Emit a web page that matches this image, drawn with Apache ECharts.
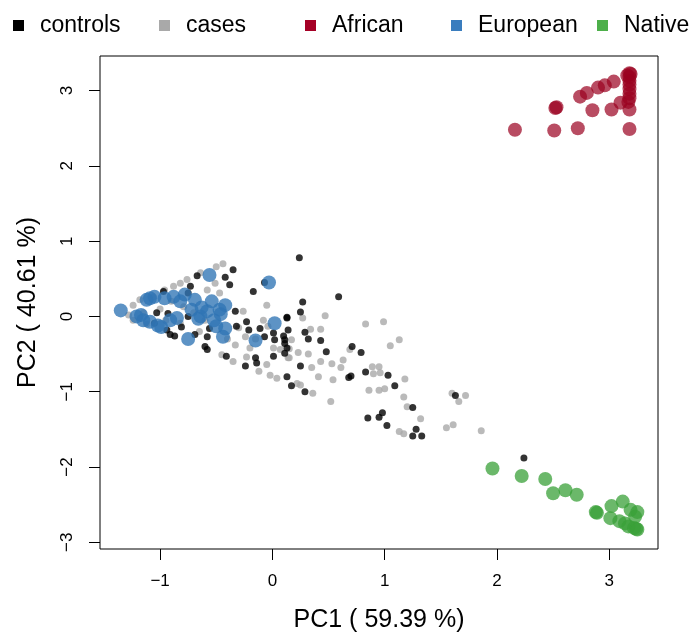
<!DOCTYPE html>
<html>
<head>
<meta charset="utf-8">
<script src="https://cdn.jsdelivr.net/npm/echarts@6/dist/echarts.min.js"></script>
<style>
    html,body{margin:0;padding:0;background:#fff;}
    #pcaChartEle{width:694px;height:635px;}
</style>
</head>
<body>
<div id="pcaChartEle"></div>
<script>
// tick positions
var xTicks = [-1, 0, 1, 2, 3];
var yTicks = [-3, -2, -1, 0, 1, 2, 3];

var legendNames = ["controls", "cases", "African", "European", "Native"];
var legendColors = ['#000000', '#A9A9A9', '#A50026', '#3A7DBE', '#4DAF4A'];

// PC1, PC2 per sample
var casesData = [
    [-1.28,0.02],[-1.24,0.15],[-1.24,-0.05],[-1.18,0.22],[-1.06,0.26],[-0.96,0.35],[-0.88,0.40],[-0.82,0.44],
    [-0.76,0.49],[-0.64,0.58],[-0.50,0.66],[-0.44,0.70],[-0.51,0.44],[-0.47,0.31],[-0.58,0.35],[-0.79,0.13],
    [-0.82,-0.09],[-1.12,-0.10],[-0.26,0.07],[-0.05,0.15],[-0.08,-0.05],[-0.04,-0.13],[-0.24,-0.27],[0.01,-0.42],
    [0.07,-0.44],[0.14,-0.55],[-0.23,-0.54],[-0.05,-0.64],[-0.12,-0.73],[-0.02,-0.78],[0.04,-0.82],[-0.45,-0.51],
    [-0.33,-0.38],[0.22,-0.89],[0.17,-0.31],[-1.00,0.10],[-0.90,0.20],[-0.70,0.05],[-0.60,-0.05],[-1.15,0.05],
    [-0.95,-0.05],[-0.65,-0.20],[-0.40,-0.30],[-0.30,-0.15],[-0.15,-0.30],[-0.35,-0.60],[-0.20,-0.42],
    [0.27,-0.02],[0.47,0.01],[0.34,-0.17],[0.43,-0.17],[0.83,-0.10],[0.99,-0.07],[1.13,-0.31],[1.05,-0.39],
    [0.69,-0.44],[0.63,-0.58],[0.61,-0.68],[0.53,-0.63],[0.43,-0.60],[0.35,-0.68],[0.32,-0.50],[0.23,-0.48],
    [0.15,-0.43],[0.15,-0.55],[0.41,-0.80],[0.54,-0.84],[0.25,-0.91],[0.36,-1.02],[0.52,-1.13],[0.89,-0.67],
    [0.95,-0.67],[0.96,-0.75],[0.90,-0.76],[1.18,-0.83],[0.86,-0.98],[0.95,-0.98],[1.00,-0.96],[1.17,-1.07],
    [1.20,-1.20],[1.32,-1.36],[1.13,-1.53],[1.17,-1.56],[1.60,-1.02],[1.72,-1.05],[1.66,-1.13],[1.55,-1.48],
    [1.61,-1.44],[1.86,-1.52]
];
var controlsData = [
    [-0.35,0.62],[-0.42,0.52],[-0.67,0.54],[-0.73,0.40],[-0.38,0.42],[-0.17,0.33],[-0.07,0.45],[-0.75,0.31],
    [-0.97,0.33],[-1.03,0.05],[-0.93,0.04],[-1.05,-0.09],[-0.94,-0.18],[-0.91,-0.24],[-0.87,-0.26],[-0.81,-0.14],
    [-0.75,0.00],[-0.69,-0.24],[-0.58,-0.27],[-0.56,-0.16],[-0.60,-0.40],[-0.58,-0.44],[-0.41,-0.53],[-0.33,0.07],
    [-0.32,-0.13],[-0.23,-0.07],[-0.21,-0.18],[-0.11,-0.16],[-0.07,-0.27],[0.02,-0.31],[0.01,-0.22],[0.13,-0.02],
    [0.14,-0.18],[0.11,-0.31],[0.13,-0.42],[0.01,-0.53],[-0.15,-0.55],[-0.14,-0.62],[-0.24,-0.66],
    [0.24,0.78],[0.59,0.26],[0.27,0.19],[0.25,0.06],[0.13,-0.01],[0.29,-0.21],[0.32,-0.30],[0.43,-0.32],
    [0.48,-0.47],[0.10,-0.26],[0.11,-0.36],[0.11,-0.49],[0.71,-0.40],[0.79,-0.48],[0.25,-0.66],[0.13,-0.80],
    [0.17,-0.92],[0.29,-1.00],[0.68,-0.81],[0.70,-0.79],[0.83,-0.74],[1.03,-0.78],[1.09,-0.92],[1.25,-1.21],
    [0.85,-1.35],[0.95,-1.34],[0.98,-1.28],[1.02,-1.45],[1.28,-1.50],[1.25,-1.59],[1.33,-1.59],[1.63,-1.05],
    [2.24,-1.88]
];
var africanData = [
    [2.16,2.48],[2.51,2.47],[2.72,2.50],[3.18,2.49],[2.52,2.77],[2.53,2.78],[2.85,2.74],[3.02,2.75],
    [3.18,2.75],[3.10,2.84],[2.74,2.92],[2.80,2.97],[2.90,3.04],[2.96,3.07],[3.04,3.12],[3.18,3.23],
    [3.18,3.18],[3.18,3.13],[3.18,3.08],[3.18,3.02],[3.18,2.96],[3.18,2.90],[3.17,2.85],[3.16,3.20],
    [3.19,3.22]
];
var europeanData = [
    [-1.35,0.08],[-1.09,0.24],[-1.12,0.22],[-1.21,0.00],[-1.15,-0.05],[-1.09,-0.07],[-0.99,-0.14],[-1.02,-0.12],
    [-0.91,-0.05],[-0.88,0.26],[-0.82,0.20],[-0.69,0.22],[-0.72,0.09],[-0.64,0.00],[-0.58,0.07],[-0.54,0.20],
    [-0.47,0.09],[-0.42,0.15],[-0.50,-0.13],[-0.42,-0.16],[-0.44,-0.27],[-0.56,0.55],[-0.75,-0.30],[-0.03,0.45],
    [0.02,-0.09],[-0.15,-0.32],[-0.78,0.29],[-0.96,0.24],[-1.05,0.26],[-0.63,0.12],[-0.66,-0.03],[-0.52,-0.05],
    [-0.46,0.03],[-1.17,0.02],[-0.85,-0.02]
];
var nativeData = [
    [1.96,-2.02],[2.22,-2.12],[2.43,-2.16],[2.50,-2.35],[2.61,-2.31],[2.71,-2.37],[2.88,-2.60],[2.89,-2.61],
    [3.02,-2.52],[3.12,-2.46],[3.01,-2.68],[3.09,-2.72],[3.19,-2.57],[3.25,-2.60],[3.23,-2.66],[3.17,-2.79],
    [3.25,-2.83],[3.22,-2.81],[3.24,-2.82],[3.14,-2.75]
];

var fontName = "Liberation Sans";

function minusLabel(v){
    return v < 0 ? "\u2212" + Math.abs(v) : String(v);
}

// one legend per entry, evenly spaced like R's horizontal legend
function buildLegends(){
    var legends = [];
    legendNames.forEach(function (name, index) {
        legends.push({
            left: 13 + index * 146,
            top: 14,
            padding: 0,
            icon: 'rect',
            itemWidth: 11,
            itemHeight: 11,
            textStyle: {
                fontFamily: fontName,
                fontSize: 23,
                color: '#000',
                padding: [0, 0, 0, 11]
            },
            data: [{ name: name, itemStyle: { color: legendColors[index], opacity: 1 } }]
        });
    });
    return legends;
}

function renderPcaChart(myChart){
    var option = {
        animation: false,
        textStyle: { fontFamily: fontName },
        legend: buildLegends(),
        grid: {
            left: 100,
            right: 36,
            top: 56,
            bottom: 86,
            containLabel: false,
            outerBoundsMode: 'none',
            show: true,
            borderColor: '#000',
            borderWidth: 1
        },
        xAxis: {
            type: 'value',
            min: -1.535,
            max: 3.434,
            name: 'PC1 ( 59.39 %)',
            nameLocation: 'middle',
            nameGap: 59,
            nameTextStyle: { fontFamily: fontName, fontSize: 25, color: '#000' },
            axisLine: { show: false, onZero: false },
            splitLine: { show: false },
            axisTick: { show: true, inside: false, length: 11, customValues: xTicks, lineStyle: { color: '#000' } },
            axisLabel: { customValues: xTicks, margin: 24, fontSize: 17, color: '#000', fontFamily: fontName, formatter: minusLabel }
        },
        yAxis: {
            type: 'value',
            min: -3.09,
            max: 3.46,
            name: 'PC2 ( 40.61 %)',
            nameLocation: 'middle',
            nameGap: 59,
            nameTextStyle: { fontFamily: fontName, fontSize: 25, color: '#000' },
            axisLine: { show: false, onZero: false },
            splitLine: { show: false },
            axisTick: { show: true, inside: false, length: 11, customValues: yTicks, lineStyle: { color: '#000' } },
            axisLabel: { customValues: yTicks, margin: 24, rotate: 90, fontSize: 17, color: '#000', fontFamily: fontName, formatter: minusLabel }
        },
        series: [
            { name: legendNames[1], type: 'scatter', symbolSize: 7, data: casesData, itemStyle: { color: '#A9A9A9' } },
            { name: legendNames[0], type: 'scatter', symbolSize: 7, data: controlsData, itemStyle: { color: '#000000' } },
            { name: legendNames[2], type: 'scatter', symbolSize: 14, data: africanData, itemStyle: { color: '#9A0020', opacity: 0.7 } },
            { name: legendNames[3], type: 'scatter', symbolSize: 14, data: europeanData, itemStyle: { color: '#2F74B5', opacity: 0.78 } },
            { name: legendNames[4], type: 'scatter', symbolSize: 14, data: nativeData, itemStyle: { color: '#3AA038', opacity: 0.75 } }
        ]
    };
    myChart.setOption(option, true);
}

var pcaChart = echarts.init(document.getElementById("pcaChartEle"));
renderPcaChart(pcaChart);
</script>
</body>
</html>
